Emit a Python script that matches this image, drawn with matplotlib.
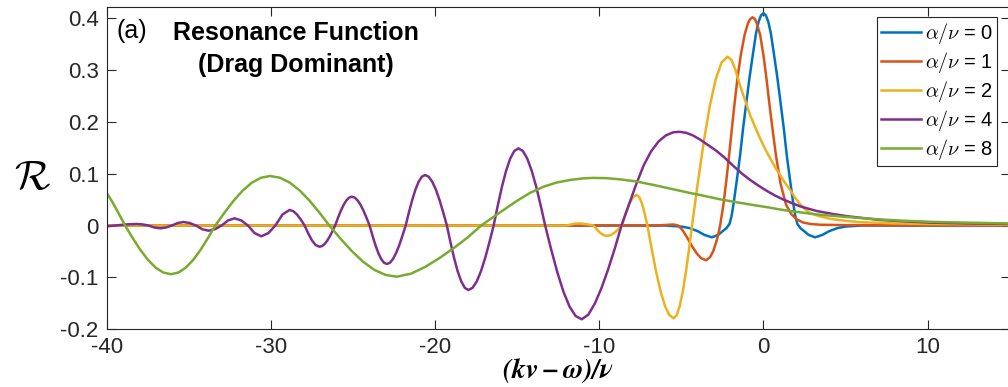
import matplotlib
matplotlib.use("Agg")
import matplotlib.pyplot as plt

plt.rcParams['font.family'] = ['Liberation Sans', 'DejaVu Sans']
plt.rcParams['axes.unicode_minus'] = False

# ---- series data: (kv - w)/nu  vs  resonance function R ----
x_a0 = [-40, -6.0, -5.5, -5.0, -4.5, -4.0, -3.6, -3.15, -2.75, -2.45, -2.25, -2.07,
        -1.95, -1.83, -1.62, -1.42, -1.25, -1.06, -0.85, -0.65, -0.45, -0.3, -0.15, 0.0,
        0.15, 0.3, 0.45, 0.65, 0.85, 1.06, 1.25, 1.42, 1.62, 1.83, 1.95, 2.07,
        2.25, 2.45, 2.75, 3.15, 3.6, 4.0, 4.5, 5.0, 5.5, 6.0, 15]
y_a0 = [0.0, 0.0, -0.001, -0.002, -0.005, -0.011, -0.018, -0.0228, -0.018, -0.010, -0.005, 0.003,
        0.017, 0.040, 0.088, 0.136, 0.185, 0.233, 0.285, 0.329, 0.3715, 0.393, 0.4057, 0.41,
        0.4057, 0.393, 0.3715, 0.329, 0.285, 0.233, 0.185, 0.136, 0.088, 0.040, 0.017, 0.003,
        -0.005, -0.010, -0.018, -0.0228, -0.018, -0.011, -0.005, -0.002, -0.001, 0.0, 0.0]

x_a1 = [-40, -6.5, -6.0, -5.47, -5.2, -4.95, -4.67, -4.35, -4.06, -3.8, -3.5, -3.25,
        -3.05, -2.85, -2.74, -2.64, -2.44, -2.26, -2.09, -1.93, -1.77, -1.58, -1.38, -1.15,
        -0.95, -0.82, -0.67, -0.52, -0.4, -0.2, 0.0, 0.18, 0.37, 0.56, 0.76, 1.05, 1.38, 1.7, 2.03,
        2.4, 2.85, 3.5, 5.0, 8.0, 15]
y_a1 = [0.0, 0.0, 0.001, 0.002, 0.0, -0.008, -0.022, -0.040, -0.054, -0.063, -0.067, -0.061,
        -0.049, -0.029, -0.015, 0.0, 0.040, 0.087, 0.136, 0.185, 0.233, 0.285, 0.329, 0.368,
        0.390, 0.398, 0.402, 0.399, 0.390, 0.368, 0.329, 0.285, 0.233, 0.185, 0.136, 0.080, 0.040, 0.022, 0.012,
        0.006, 0.003, 0.0015, 0.0008, 0.0003, 0.0]

x_a2 = [-40, -12.0, -11.8, -11.5, -11.26, -11.0, -10.7, -10.35, -10.15, -9.95, -9.75, -9.54,
        -9.31, -9.09, -8.86, -8.63, -8.4025, -8.175, -7.9475, -7.72, -7.5575, -7.395, -7.2325,
        -7.07, -6.803, -6.537, -6.27, -6.003, -5.737, -5.47, -5.283, -5.097, -4.91, -4.723,
        -4.537, -4.35, -3.99, -3.63, -3.27, -2.91, -2.55, -2.19, -1.95, -1.7, -1.42, -1.1,
        -0.81, -0.5, -0.2, 0.1, 0.41, 0.7, 1.02, 1.3, 1.63, 1.95, 2.24, 2.55, 2.85, 3.4,
        4.06, 5.0, 5.9, 8.0, 10.0, 15]
y_a2 = [0.0, 0.0, 0.0015, 0.0035, 0.004, 0.0035, 0.002, 0.0, -0.0077, -0.0141, -0.0185, -0.020,
        -0.0185, -0.0141, -0.0077, 0.0, 0.0226, 0.0417, 0.0545, 0.059, 0.0545, 0.0417, 0.0226,
        0.0, -0.0464, -0.0895, -0.1266, -0.155, -0.1729, -0.179, -0.1729, -0.155, -0.1266, -0.0895,
        -0.0464, 0.0, 0.0844, 0.163, 0.2305, 0.2823, 0.3149, 0.326, 0.320, 0.300, 0.270, 0.240,
        0.213, 0.190, 0.168, 0.148, 0.130, 0.113, 0.0975, 0.083, 0.0685, 0.053, 0.041, 0.031, 0.024, 0.018,
        0.013, 0.009, 0.0065, 0.004, 0.003, 0.0015]

x_a4 = [-40, -39.5, -38.8, -38.18, -37.825, -37.47, -37.115, -36.76, -36.405, -36.05,
        -35.695, -35.34, -34.96, -34.58, -34.2, -33.82, -33.42, -33.02, -32.625, -32.23,
        -31.82, -31.41, -31.005, -30.6, -30.17, -29.74, -29.31, -28.88, -28.65, -28.42,
        -28.19, -27.96, -27.73, -27.505, -27.28, -27.05,
        -26.892, -26.733, -26.575, -26.417, -26.258, -26.1,
        -25.93, -25.76, -25.59, -25.42, -25.25, -25.08,
        -24.9, -24.72, -24.54, -24.36, -24.18, -24.0,
        -23.825, -23.65, -23.475, -23.3, -23.125, -22.95,
        -22.758, -22.567, -22.375, -22.183, -21.992, -21.8,
        -21.603, -21.407, -21.21, -21.013, -20.817, -20.62,
        -20.398, -20.177, -19.955, -19.733, -19.512, -19.29,
        -19.072, -18.853, -18.635, -18.417, -18.198, -17.98,
        -17.723, -17.467, -17.21, -16.953, -16.697, -16.44,
        -16.188, -15.937, -15.685, -15.433, -15.182, -14.93,
        -14.658, -14.387, -14.115, -13.843, -13.572, -13.3,
        -12.928, -12.557, -12.185, -11.813, -11.442, -11.07,
        -10.667, -10.263, -9.86, -9.457, -9.053, -8.65,
        -8.2, -7.75, -7.3, -6.85, -6.4, -5.95, -5.5, -5.11, -4.7, -4.3, -3.86, -3.4,
        -2.9, -2.4, -1.83, -1.3, -0.81, -0.3, 0.2, 0.7, 1.22, 2.24, 3.25, 4.28, 5.1,
        5.9, 7.0, 8.3, 10.3, 12.5, 15]
y_a4 = [-0.0015, 0.0, 0.0022, 0.003, 0.0021, 0.0, -0.0038, -0.0054, -0.0038, 0.0,
        0.0048, 0.0068, 0.0048, 0.0, -0.0071, -0.010, -0.0071, 0.0, 0.0098, 0.0139,
        0.0098, 0.0, -0.0147, -0.0208, -0.0147, 0.0, 0.0212, 0.030, 0.0277, 0.0212,
        0.0115, 0.0, -0.0157, -0.029, -0.0379, -0.041,
        -0.0396, -0.0355, -0.029, -0.0205, -0.0106, 0.0,
        0.0144, 0.0279, 0.0394, 0.0482, 0.0538, 0.0557,
        0.0538, 0.0482, 0.0394, 0.0279, 0.0144, 0.0,
        -0.0192, -0.0372, -0.0525, -0.0643, -0.0718, -0.0743,
        -0.0718, -0.0643, -0.0525, -0.0372, -0.0192, 0.0,
        0.0253, 0.0488, 0.0689, 0.0844, 0.0942, 0.0975,
        0.0942, 0.0844, 0.0689, 0.0488, 0.0253, 0.0,
        -0.0322, -0.0623, -0.088, -0.1078, -0.1203, -0.1245,
        -0.1203, -0.1078, -0.088, -0.0623, -0.0322, 0.0,
        0.0386, 0.0745, 0.1053, 0.129, 0.1439, 0.149,
        0.1439, 0.129, 0.1053, 0.0745, 0.0386, 0.0,
        -0.0469, -0.0905, -0.128, -0.1567, -0.1748, -0.181,
        -0.172, -0.150, -0.120, -0.084, -0.044, 0.0,
        0.040, 0.080, 0.116, 0.143, 0.162, 0.174, 0.180, 0.181, 0.179, 0.174, 0.166, 0.156,
        0.145, 0.132, 0.115, 0.100, 0.088, 0.077, 0.067, 0.058, 0.050, 0.037, 0.028, 0.022, 0.018,
        0.015, 0.011, 0.0085, 0.0055, 0.004, 0.003]

x_a8 = [-40, -39.7, -39.3, -38.9,
        -38.433, -37.967, -37.5, -37.033, -36.567, -36.1,
        -35.65, -35.2, -34.75, -34.3, -33.85, -33.4,
        -32.843, -32.287, -31.73, -31.173, -30.617, -30.06,
        -29.458, -28.857, -28.255, -27.653, -27.052, -26.45,
        -25.765, -25.08, -24.395, -23.71, -23.025, -22.34,
        -21.477, -20.613, -19.75, -18.887, -18.023, -17.2,
        -16.5, -15.84, -15.0, -14.22, -13.4, -12.6, -11.78, -11.0, -10.36, -9.6, -8.7,
        -7.72, -6.5, -5.28, -4.5, -3.86, -2.64, -1.83, -0.8, 0.2, 1.2, 2.24, 3.2, 4.28,
        5.9, 7.0, 8.33, 10.36, 12.5, 15]
y_a8 = [0.062, 0.047, 0.024, 0.0,
        -0.0243, -0.047, -0.0665, -0.0814, -0.0908, -0.094,
        -0.0908, -0.0814, -0.0665, -0.047, -0.0243, 0.0,
        0.0248, 0.0478, 0.0676, 0.0828, 0.0923, 0.0956,
        0.0923, 0.0828, 0.0676, 0.0478, 0.0248, 0.0,
        -0.0256, -0.0494, -0.0699, -0.0856, -0.0954, -0.0988,
        -0.093, -0.080, -0.063, -0.044, -0.023, 0.0,
        0.0155, 0.030, 0.048, 0.063, 0.075, 0.083, 0.088, 0.091, 0.092, 0.0915, 0.089,
        0.085, 0.077, 0.0685, 0.063, 0.059, 0.0506, 0.046, 0.0405, 0.0355, 0.030, 0.0255, 0.0215, 0.0185,
        0.0145, 0.012, 0.0095, 0.007, 0.0055, 0.004]

series_x = [x_a0, x_a1, x_a2, x_a4, x_a8]
series_y = [y_a0, y_a1, y_a2, y_a4, y_a8]
alpha_over_nu = [0, 1, 2, 4, 8]
colors = ['#0072BD', '#D95319', '#EDB120', '#7E2F8E', '#77AC30']

xticks = [-40, -30, -20, -10, 0, 10]
xtick_labels = ['-40', '-30', '-20', '-10', '0', '10']
yticks = [-0.2, -0.1, 0.0, 0.1, 0.2, 0.3, 0.4]
ytick_labels = ['-0.2', '-0.1', '0', '0.1', '0.2', '0.3', '0.4']

fig = plt.figure(figsize=(10.08, 3.87), dpi=100)
W, H = 1008.0, 387.0
ax_l, ax_r, ax_t, ax_b = 107.0, 1009.6, 7.5, 329.1
ax = fig.add_axes([ax_l / W, 1 - ax_b / H, (ax_r - ax_l) / W, (ax_b - ax_t) / H])

axis_col = '#262626'
for xs, ys, a, c in zip(series_x, series_y, alpha_over_nu, colors):
    ax.plot(xs, ys, color=c, lw=1.8, solid_joinstyle='round',
            label=r'$\alpha/\nu$ = %d' % a)

ax.set_xlim(-40, 15)
ax.set_ylim(-0.2, 0.421)
ax.set_xticks(xticks)
ax.set_xticklabels(xtick_labels)
ax.set_yticks(yticks)
ax.set_yticklabels(ytick_labels)
ax.tick_params(direction='in', length=6.5, width=0.8, colors=axis_col,
               labelsize=16, top=True, right=True, pad=6)
ax.tick_params(axis='x', pad=6)
for s in ax.spines.values():
    s.set_color(axis_col)
    s.set_linewidth(0.8)

ax.set_ylabel(r'$\mathcal{R}$', fontsize=30, rotation=0, math_fontfamily='cm',
              color='k', ha='center', va='center')
ax.yaxis.set_label_coords(-0.083, 0.47)
ax.set_xlabel(r'$\mathbfit{(kv-\omega)/\nu}$', fontsize=20, math_fontfamily='stix',
              color='k', va='top')
ax.xaxis.set_label_coords(0.5, -0.087)

# panel annotation
ax.text(0.011, 0.905, '(a)', transform=ax.transAxes, fontsize=18, va='baseline', ha='left')
ax.text(0.2094, 0.899, 'Resonance Function', transform=ax.transAxes, fontsize=18,
        fontweight='bold', va='baseline', ha='center')
ax.text(0.2094, 0.800, '(Drag Dominant)', transform=ax.transAxes, fontsize=18,
        fontweight='bold', va='baseline', ha='center')

leg = ax.legend(loc='upper right', bbox_to_anchor=(997 / W, 1 - 17 / H),
                bbox_transform=fig.transFigure, borderaxespad=0,
                prop={'family': ['Liberation Sans'], 'size': 14.5, 'math_fontfamily': 'cm'},
                handlelength=2.0, handletextpad=0.15, labelspacing=0.2, borderpad=0.2,
                fancybox=False, framealpha=1, edgecolor=axis_col)
leg.get_frame().set_linewidth(0.8)

fig.savefig('out.png', dpi=100)
